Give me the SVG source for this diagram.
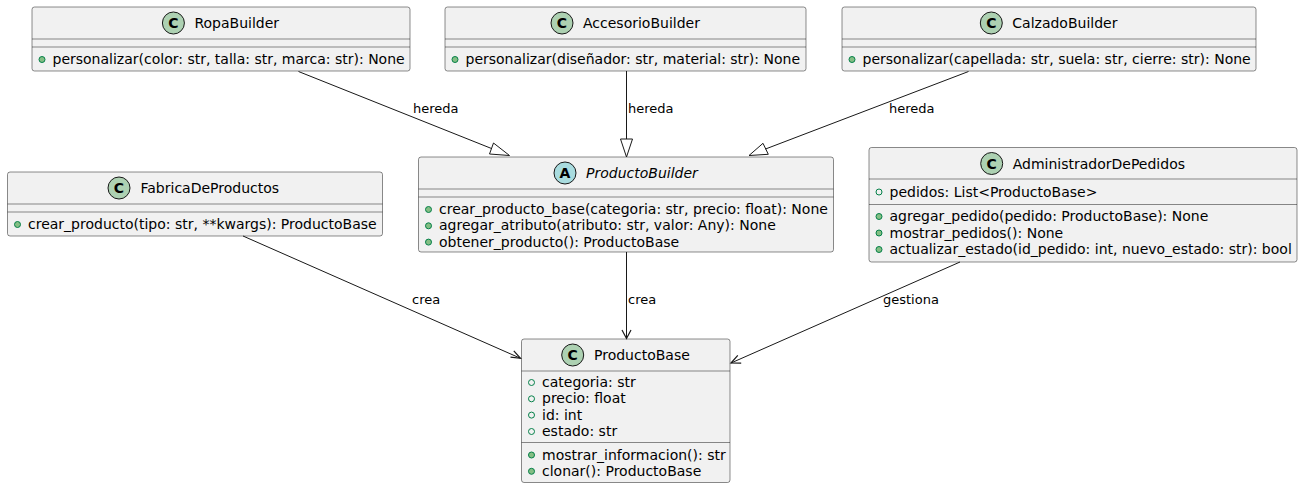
<svg xmlns="http://www.w3.org/2000/svg" width="1303" height="489" viewBox="0 0 1303 489">
<defs>
<style>
text{font-family:"DejaVu Sans","Liberation Sans",sans-serif;fill:#000}
.box{fill:#F1F1F1;stroke:#181818;stroke-width:0.5}
.sep{stroke:#181818;stroke-width:0.5}
.cc{fill:#ADD1B2;stroke:#181818;stroke-width:1}
.ca{fill:#A9DCDF;stroke:#181818;stroke-width:1}
.ct{font-size:14px;font-weight:bold;text-anchor:middle}
.nm{font-size:14px}
.mb{font-size:14px}
.vm{fill:#84BE84;stroke:#038048;stroke-width:1}
.va{fill:none;stroke:#038048;stroke-width:1}
.ln{stroke:#181818;stroke-width:1;fill:none}
.hd{fill:none;stroke:#181818;stroke-width:1}
.ah{fill:none;stroke:#181818;stroke-width:1.2;stroke-linejoin:miter}
.lb{font-size:13px}
</style>
</defs>
<g id="RopaBuilder">
<rect class="box" x="32" y="7" width="378" height="64" rx="2.5"/>
<circle class="cc" cx="173.4" cy="23" r="11"/>
<text class="ct" x="173.4" y="28">C</text>
<text class="nm" x="194.4" y="28">RopaBuilder</text>
<line class="sep" x1="32" y1="39" x2="410" y2="39"/>
<line class="sep" x1="32" y1="47" x2="410" y2="47"/>
<circle class="vm" cx="42" cy="59.5" r="3"/>
<text class="mb" x="52.5" y="64">personalizar(color: str, talla: str, marca: str): None</text>
</g>
<g id="AccesorioBuilder">
<rect class="box" x="445" y="7" width="361" height="64" rx="2.5"/>
<circle class="cc" cx="562" cy="23" r="11"/>
<text class="ct" x="562" y="28">C</text>
<text class="nm" x="583" y="28">AccesorioBuilder</text>
<line class="sep" x1="445" y1="39" x2="806" y2="39"/>
<line class="sep" x1="445" y1="47" x2="806" y2="47"/>
<circle class="vm" cx="455" cy="59.5" r="3"/>
<text class="mb" x="465.5" y="64">personalizar(diseñador: str, material: str): None</text>
</g>
<g id="CalzadoBuilder">
<rect class="box" x="842" y="7" width="414" height="64" rx="2.5"/>
<circle class="cc" cx="991.3" cy="23" r="11"/>
<text class="ct" x="991.3" y="28">C</text>
<text class="nm" x="1012.3" y="28">CalzadoBuilder</text>
<line class="sep" x1="842" y1="39" x2="1256" y2="39"/>
<line class="sep" x1="842" y1="47" x2="1256" y2="47"/>
<circle class="vm" cx="852" cy="59.5" r="3"/>
<text class="mb" x="862.5" y="64">personalizar(capellada: str, suela: str, cierre: str): None</text>
</g>
<g id="FabricaDeProductos">
<rect class="box" x="7.5" y="172" width="375" height="64" rx="2.5"/>
<circle class="cc" cx="119" cy="188" r="11"/>
<text class="ct" x="119" y="193">C</text>
<text class="nm" x="140.5" y="193">FabricaDeProductos</text>
<line class="sep" x1="7.5" y1="204" x2="382.5" y2="204"/>
<line class="sep" x1="7.5" y1="212" x2="382.5" y2="212"/>
<circle class="vm" cx="17.5" cy="224.5" r="3"/>
<text class="mb" x="28" y="229">crear_producto(tipo: str, **kwargs): ProductoBase</text>
</g>
<g id="ProductoBuilder">
<rect class="box" x="418.5" y="157" width="415" height="95" rx="2.5"/>
<circle class="ca" cx="565" cy="173" r="11"/>
<text class="ct" x="565" y="178">A</text>
<text class="nm" x="586" y="178" font-style="italic">ProductoBuilder</text>
<line class="sep" x1="418.5" y1="189" x2="833.5" y2="189"/>
<line class="sep" x1="418.5" y1="197" x2="833.5" y2="197"/>
<circle class="vm" cx="428.5" cy="209.5" r="3"/>
<text class="mb" x="439" y="214">crear_producto_base(categoria: str, precio: float): None</text>
<circle class="vm" cx="428.5" cy="225.8" r="3"/>
<text class="mb" x="439" y="230.3">agregar_atributo(atributo: str, valor: Any): None</text>
<circle class="vm" cx="428.5" cy="242.1" r="3"/>
<text class="mb" x="439" y="246.6">obtener_producto(): ProductoBase</text>
</g>
<g id="AdministradorDePedidos">
<rect class="box" x="869" y="147.5" width="428" height="114.5" rx="2.5"/>
<circle class="cc" cx="991.7" cy="163.5" r="11"/>
<text class="ct" x="991.7" y="168.5">C</text>
<text class="nm" x="1012.7" y="168.5">AdministradorDePedidos</text>
<line class="sep" x1="869" y1="179" x2="1297" y2="179"/>
<circle class="va" cx="879" cy="192" r="3"/>
<text class="mb" x="889.5" y="196.5">pedidos: List&lt;ProductoBase&gt;</text>
<line class="sep" x1="869" y1="204.5" x2="1297" y2="204.5"/>
<circle class="vm" cx="879" cy="216.5" r="3"/>
<text class="mb" x="889.5" y="221">agregar_pedido(pedido: ProductoBase): None</text>
<circle class="vm" cx="879" cy="233" r="3"/>
<text class="mb" x="889.5" y="237.5">mostrar_pedidos(): None</text>
<circle class="vm" cx="879" cy="249.5" r="3"/>
<text class="mb" x="889.5" y="254">actualizar_estado(id_pedido: int, nuevo_estado: str): bool</text>
</g>
<g id="ProductoBase">
<rect class="box" x="521.5" y="339" width="208.5" height="143.5" rx="2.5"/>
<circle class="cc" cx="572.7" cy="355" r="11"/>
<text class="ct" x="572.7" y="360">C</text>
<text class="nm" x="594" y="360">ProductoBase</text>
<line class="sep" x1="521.5" y1="371" x2="730" y2="371"/>
<circle class="va" cx="531.5" cy="382.5" r="3"/>
<text class="mb" x="542" y="387">categoria: str</text>
<circle class="va" cx="531.5" cy="398.8" r="3"/>
<text class="mb" x="542" y="403.3">precio: float</text>
<circle class="va" cx="531.5" cy="415.1" r="3"/>
<text class="mb" x="542" y="419.6">id: int</text>
<circle class="va" cx="531.5" cy="431.5" r="3"/>
<text class="mb" x="542" y="436">estado: str</text>
<line class="sep" x1="521.5" y1="442.5" x2="730" y2="442.5"/>
<circle class="vm" cx="531.5" cy="455" r="3"/>
<text class="mb" x="542" y="459.5">mostrar_informacion(): str</text>
<circle class="vm" cx="531.5" cy="471.3" r="3"/>
<text class="mb" x="542" y="475.8">clonar(): ProductoBase</text>
</g>
<g id="connectors">
<path class="ln" d="M298.5,71.5 L491.5,148.5"/>
<polygon class="hd" points="509.5,155.5 489.5,154 493.5,143"/>
<text class="lb" x="413" y="113">hereda</text>
<path class="ln" d="M626.5,71 L626.5,139"/>
<polygon class="hd" points="626.5,157 620.5,139 632.5,139"/>
<text class="lb" x="628" y="113">hereda</text>
<path class="ln" d="M968.5,71.5 L765.5,149"/>
<polygon class="hd" points="749,155.5 763,143.3 768.3,154.3"/>
<text class="lb" x="889" y="113">hereda</text>
<path class="ln" d="M243,236 L520.5,358.3"/>
<polyline class="ah" points="510.5,357.2 520.5,358.3 513.8,350.8"/>
<text class="lb" x="412" y="304">crea</text>
<path class="ln" d="M626.5,252 L626.5,338.5"/>
<polyline class="ah" points="622,330 626.5,338.5 631,330"/>
<text class="lb" x="628" y="304">crea</text>
<path class="ln" d="M960,262 L731,363"/>
<polyline class="ah" points="737.8,355.4 731,363 741.2,363.1"/>
<text class="lb" x="883" y="304">gestiona</text>
</g>
</svg>
